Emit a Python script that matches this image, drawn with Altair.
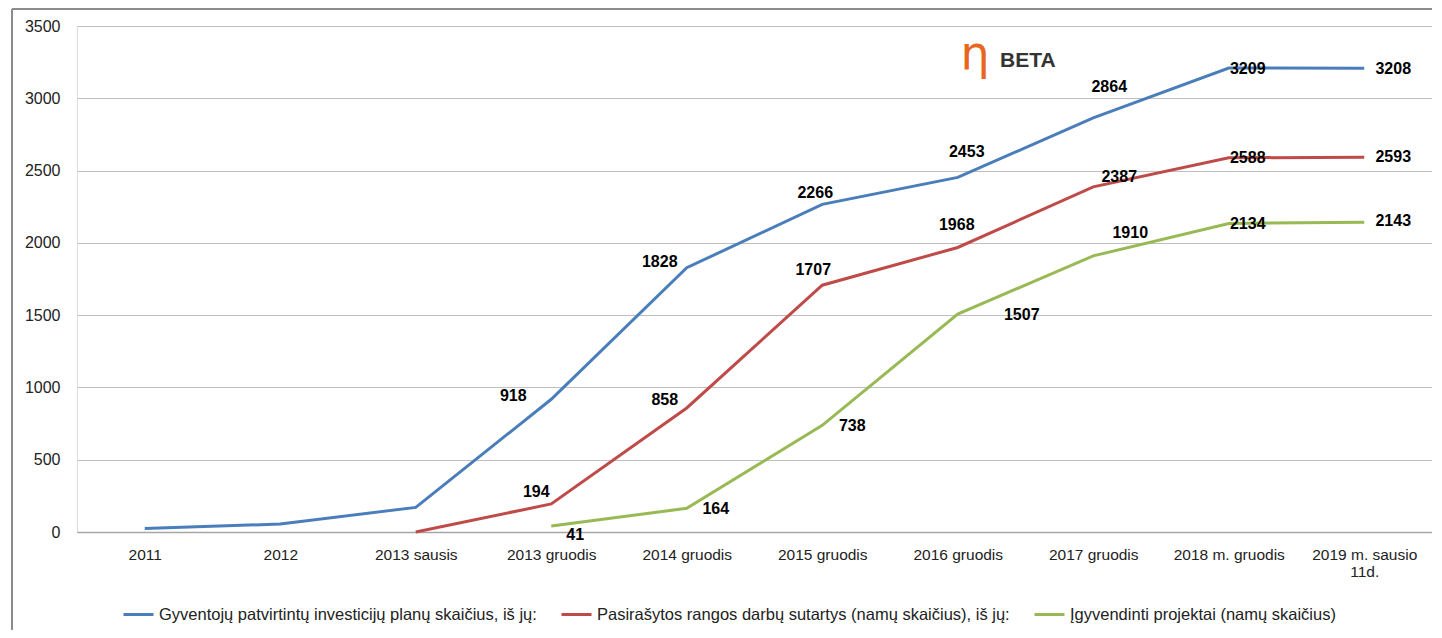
import altair as alt
import pandas as pd

categories = ["2011", "2012", "2013 sausis", "2013 gruodis", "2014 gruodis",
              "2015 gruodis", "2016 gruodis", "2017 gruodis", "2018 m. gruodis",
              "2019 m. sausio 11d."]
series_names = [
    "Gyventojų patvirtintų investicijų planų skaičius, iš jų:",
    "Pasirašytos rangos darbų sutartys (namų skaičius), iš jų:",
    "Įgyvendinti projektai (namų skaičius)",
]
blue_vals = [25, 55, 170, 918, 1828, 2266, 2453, 2864, 3209, 3208]
red_vals = [None, None, 0, 194, 858, 1707, 1968, 2387, 2588, 2593]
green_vals = [None, None, None, 41, 164, 738, 1507, 1910, 2134, 2143]
colors = ["#4A7EBB", "#BE4B48", "#98B954"]

rows = []
for s, vals in zip(series_names, [blue_vals, red_vals, green_vals]):
    for i, (c, v) in enumerate(zip(categories, vals)):
        if v is not None:
            rows.append({"cat": c, "value": v, "series": s, "order": i})
df = pd.DataFrame(rows)

x_enc = alt.X("cat:N", sort=categories, scale=alt.Scale(type="point", padding=0.5),
              axis=alt.Axis(title=None, labelAngle=0, ticks=False, domain=True,
                            domainColor="#A6A6A6", domainWidth=1.5, labelPadding=15,
                            labelFontSize=15.5, labelColor="#222222", grid=False,
                            labelExpr="datum.label == '2019 m. sausio 11d.' ? ['2019 m. sausio', '11d.'] : datum.label"))
y_enc = alt.Y("value:Q", scale=alt.Scale(domain=[0, 3500], nice=False),
              axis=alt.Axis(title=None, values=list(range(0, 3501, 500)), ticks=False,
                            domain=False, gridColor="#BFBFBF", gridWidth=1.2, format="d",
                            labelPadding=17, labelFontSize=16, labelColor="#222222"))

lines = alt.Chart(df).mark_line(strokeWidth=3).encode(
    x=x_enc, y=y_enc,
    color=alt.Color("series:N", sort=series_names,
                    scale=alt.Scale(domain=series_names, range=colors),
                    legend=alt.Legend(title=None, orient="none", direction="horizontal",
                                      legendX=45, legendY=572, symbolType="stroke",
                                      symbolStrokeWidth=3, symbolSize=900,
                                      labelFontSize=16.5, labelColor="#222222",
                                      labelLimit=700, columnPadding=18, labelOffset=4)),
    order="order:Q",
)

# label placement (pixel offsets from the point), decorative only
label_offsets = [
    (0, "2013 gruodis", -38, -3), (0, "2014 gruodis", -27, -6), (0, "2015 gruodis", -7, -11),
    (0, "2016 gruodis", 9, -25), (0, "2017 gruodis", 16, -31), (0, "2018 m. gruodis", 19, 1),
    (0, "2019 m. sausio 11d.", 29, 1),
    (1, "2013 gruodis", -15, -12), (1, "2014 gruodis", -22, -8), (1, "2015 gruodis", -9, -15),
    (1, "2016 gruodis", -1, -22), (1, "2017 gruodis", 26, -10), (1, "2018 m. gruodis", 19, 0),
    (1, "2019 m. sausio 11d.", 29, 0),
    (2, "2013 gruodis", 24, 9), (2, "2014 gruodis", 29, 1), (2, "2015 gruodis", 30, 1),
    (2, "2016 gruodis", 64, 1), (2, "2017 gruodis", 37, -23), (2, "2018 m. gruodis", 19, 1),
    (2, "2019 m. sausio 11d.", 29, -1),
]
label_layers = []
for si, cat, dx, dy in label_offsets:
    sub = df[(df["series"] == series_names[si]) & (df["cat"] == cat)]
    label_layers.append(
        alt.Chart(sub).mark_text(fontWeight="bold", fontSize=16, color="#000000",
                                 dx=dx, dy=dy, font="Liberation Sans").encode(
            x=alt.X("cat:N", sort=categories), y="value:Q", text="value:Q")
    )

logo_df = pd.DataFrame({"t": ["x"]})
eta = alt.Chart(logo_df).mark_text(text="η", fontSize=46, color="#E8661E",
                                   font="DejaVu Sans", align="center", baseline="middle").encode(
    x=alt.value(898), y=alt.value(29))
beta = alt.Chart(logo_df).mark_text(text="BETA", fontSize=21, fontWeight="bold",
                                    color="#333333", font="Liberation Sans",
                                    align="left", baseline="middle").encode(
    x=alt.value(923), y=alt.value(35))

frame_left = alt.Chart(logo_df).mark_rule(color="#8C8C8C", strokeWidth=2).encode(
    x=alt.value(-65), y=alt.value(-17), y2=alt.value(620))
frame_top = alt.Chart(logo_df).mark_rule(color="#8C8C8C", strokeWidth=2).encode(
    x=alt.value(-65), x2=alt.value(1400), y=alt.value(-17))

chart = alt.layer(frame_left, frame_top, lines, *label_layers, eta, beta).properties(
    width=1355, height=506,
    autosize=alt.AutoSizeParams(type="none"),
    padding={"left": 69, "top": 18, "right": 0, "bottom": 98},
).configure_view(stroke=None).configure(font="Liberation Sans")

chart.save("out.html", embed_options={"renderer": "svg", "actions": False})
